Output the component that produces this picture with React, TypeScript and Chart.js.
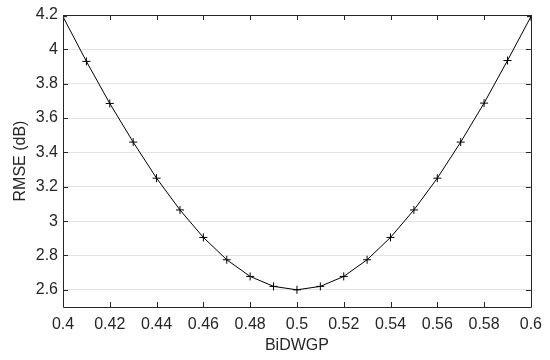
import React, { useEffect, useRef } from "react";
import { Chart, registerables } from "chart.js";

Chart.register(...registerables);

const xValues = [0.4, 0.41, 0.42, 0.43, 0.44, 0.45, 0.46, 0.47, 0.48, 0.49, 0.5, 0.51, 0.52, 0.53, 0.54, 0.55, 0.56, 0.57, 0.58, 0.59, 0.6];
const rmseValues = [4.19, 3.93, 3.685, 3.46, 3.25, 3.065, 2.905, 2.775, 2.678, 2.62, 2.6, 2.62, 2.678, 2.775, 2.905, 3.065, 3.25, 3.46, 3.687, 3.935, 4.19];
const xTicks = [0.4, 0.42, 0.44, 0.46, 0.48, 0.5, 0.52, 0.54, 0.56, 0.58, 0.6];
const yTicks = [2.6, 2.8, 3.0, 3.2, 3.4, 3.6, 3.8, 4.0, 4.2];
const xLabel = "BiDWGP";
const yLabel = "RMSE (dB)";

const AXIS_COLOR = "#262626";
const FONT = "'Liberation Sans', Arial, Helvetica, sans-serif";

const boxPlugin = {
  id: "matlabBox",
  afterDraw(chart: any) {
    const { ctx, chartArea } = chart;
    const { left, right, top, bottom } = chartArea;
    const xs = chart.scales.x;
    const ys = chart.scales.y;
    const tl = 5;
    ctx.save();
    ctx.strokeStyle = AXIS_COLOR;
    ctx.lineWidth = 1;
    ctx.beginPath();
    ctx.rect(Math.round(left) + 0.5, Math.round(top) + 0.5, Math.round(right - left), Math.round(bottom - top));
    ctx.stroke();
    ctx.beginPath();
    for (const v of xTicks) {
      const px = Math.round(xs.getPixelForValue(v)) + 0.5;
      ctx.moveTo(px, bottom);
      ctx.lineTo(px, bottom - tl);
      ctx.moveTo(px, top);
      ctx.lineTo(px, top + tl);
    }
    for (const v of yTicks) {
      const py = Math.round(ys.getPixelForValue(v)) + 0.5;
      ctx.moveTo(left, py);
      ctx.lineTo(left + tl, py);
      ctx.moveTo(right, py);
      ctx.lineTo(right - tl, py);
    }
    ctx.stroke();
    ctx.restore();
  },
};

export default function App() {
  const ref = useRef<HTMLCanvasElement | null>(null);
  useEffect(() => {
    document.body.style.margin = "0";
    const canvas = ref.current;
    if (!canvas) return;
    const chart = new Chart(canvas, {
      type: "line",
      data: {
        datasets: [
          {
            data: xValues.map((x, i) => ({ x, y: rmseValues[i] })),
            borderColor: "#000000",
            borderWidth: 1,
            pointStyle: "cross",
            pointRadius: 4,
            pointBorderColor: "#000000",
            pointBorderWidth: 1,
            fill: false,
            tension: 0,
          },
        ],
      },
      options: {
        animation: false,
        responsive: false,
        maintainAspectRatio: false,
        layout: { padding: { top: 15, right: 18, left: 0, bottom: 0 } },
        plugins: { legend: { display: false }, tooltip: { enabled: false } },
        scales: {
          x: {
            type: "linear",
            min: 0.4,
            max: 0.6,
            afterBuildTicks: (s: any) => {
              s.ticks = xTicks.map((v) => ({ value: v }));
            },
            afterFit: (s: any) => {
              s.height = 53;
            },
            grid: { display: false, drawTicks: false },
            border: { display: false },
            ticks: {
              color: AXIS_COLOR,
              font: { family: FONT, size: 16 },
              padding: 8,
              maxRotation: 0,
              autoSkip: false,
              callback: (v: any) => String(Number(Number(v).toFixed(2))),
            },
            title: {
              display: true,
              text: xLabel,
              color: AXIS_COLOR,
              font: { family: FONT, size: 16 },
              padding: { top: 4, bottom: 5 },
            },
          },
          y: {
            type: "linear",
            min: 2.5,
            max: 4.2,
            afterBuildTicks: (s: any) => {
              s.ticks = yTicks.map((v) => ({ value: v }));
            },
            afterFit: (s: any) => {
              s.width = 63;
            },
            grid: { color: "#e3e3e3", drawTicks: false, lineWidth: 1 },
            border: { display: false },
            ticks: {
              color: AXIS_COLOR,
              font: { family: FONT, size: 16 },
              padding: 5,
              autoSkip: false,
              callback: (v: any) => String(Number(Number(v).toFixed(1))),
            },
            title: {
              display: true,
              text: yLabel,
              color: AXIS_COLOR,
              font: { family: FONT, size: 16 },
              padding: { top: 11, bottom: 4 },
            },
          },
        },
      },
      plugins: [boxPlugin],
    });
    return () => chart.destroy();
  }, []);
  return (
    <div style={{ position: "absolute", left: 0, top: 0, width: 550, height: 360, background: "#fff" }}>
      <canvas ref={ref} width={550} height={360} style={{ width: 550, height: 360 }} />
    </div>
  );
}
